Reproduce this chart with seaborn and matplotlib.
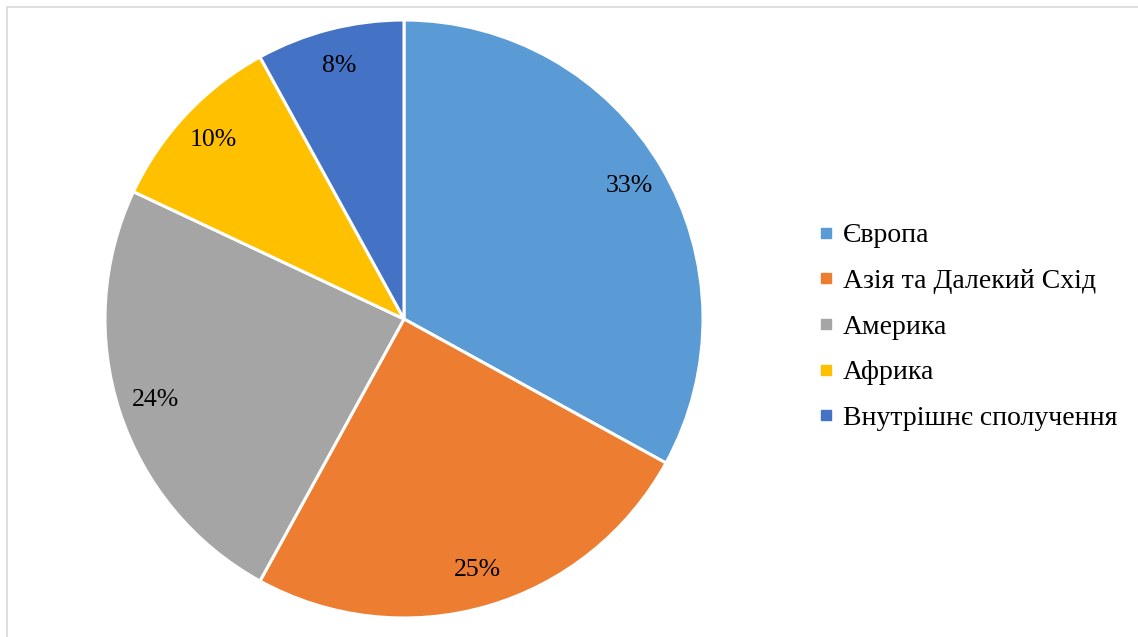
import matplotlib
matplotlib.use("Agg")
import matplotlib.pyplot as plt
from matplotlib.lines import Line2D
import seaborn as sns

# Structure of traffic by region, percent
regions = ["Європа", "Азія та Далекий Схід", "Америка", "Африка", "Внутрішнє сполучення"]
shares = [33, 25, 24, 10, 8]
colors = ["#5B9BD5", "#ED7D31", "#A5A5A5", "#FFC000", "#4472C4"]

sns.set_theme(style="white")
plt.rcParams["font.family"] = ["Liberation Serif", "DejaVu Serif"]
plt.rcParams["text.color"] = "black"

W, H, DPI = 1138, 637, 100
fig = plt.figure(figsize=(W / DPI, H / DPI), dpi=DPI)
fig.patch.set_facecolor("white")

# pie axes: centre (404, 319) px, radius 299 px
cx, cy, r = 404, 319, 299
ax = fig.add_axes([(cx - r) / W, (H - cy - r) / H, 2 * r / W, 2 * r / H])

palette = sns.color_palette(colors)
wedges, texts, autotexts = ax.pie(
    shares,
    colors=palette,
    startangle=90,
    counterclock=False,
    radius=1,
    autopct=lambda p: f"{p:.0f}%",
    pctdistance=0.875,
    wedgeprops=dict(edgecolor="white", linewidth=2.2),
    textprops=dict(fontsize=18.5, color="black"),
)
ax.set_xlim(-1, 1)
ax.set_ylim(-1, 1)
ax.set_aspect("equal")
ax.axis("off")

handles = [
    Line2D([0], [0], marker="s", linestyle="none", markersize=7,
           markerfacecolor=c, markeredgecolor=c)
    for c in palette
]
fig.legend(
    handles, regions,
    loc="center left",
    bbox_to_anchor=(819 / W, 1 - 327 / H),
    frameon=False,
    fontsize=20,
    labelcolor="black",
    handlelength=0.5,
    handletextpad=0.35,
    labelspacing=0.73,
    borderaxespad=0,
    borderpad=0,
)

# thin frame lines along the top and left edges
frame = "#D9D9D9"
fig.add_artist(Line2D([7 / W, 1], [1 - 7 / H, 1 - 7 / H], color=frame, linewidth=1.2,
                      transform=fig.transFigure))
fig.add_artist(Line2D([7 / W, 7 / W], [0, 1 - 7 / H], color=frame, linewidth=1.2,
                      transform=fig.transFigure))

fig.savefig("out.png", dpi=DPI, facecolor="white")
